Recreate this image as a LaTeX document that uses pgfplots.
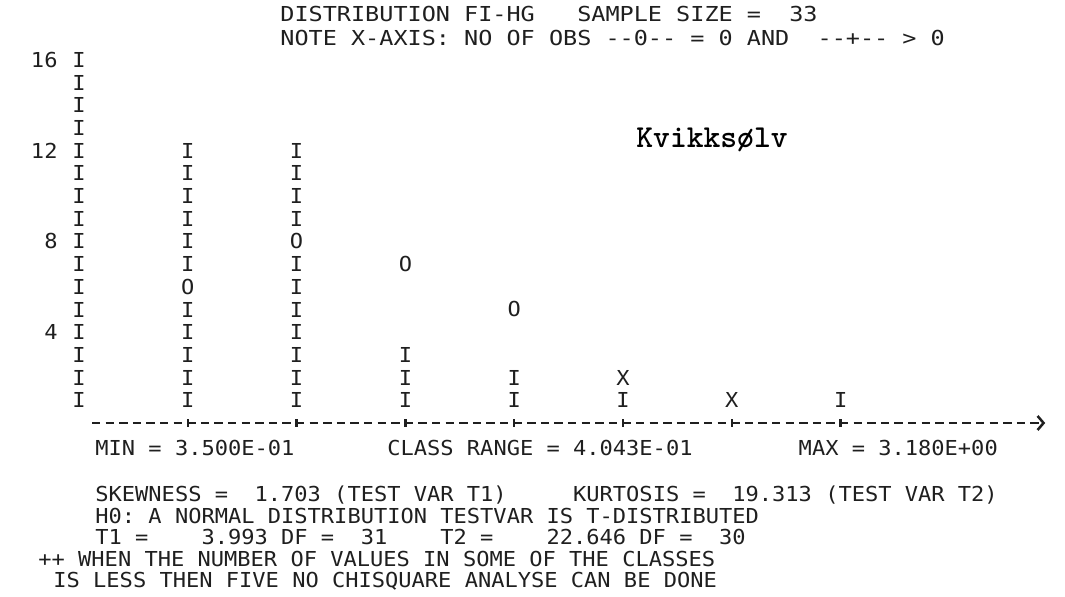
\documentclass[border=0pt]{standalone}
\usepackage{fontspec}
\setmainfont{DejaVu Sans Mono}[Ligatures=TeXOff]
\newfontfamily\prt{DejaVu Sans Mono}[FakeStretch=1.07,Ligatures=TeXOff]
\newfontfamily\prh{DejaVu Sans Mono}[FakeStretch=1.14,Ligatures=TeXOff]
\usepackage{pgfplots}
\pgfplotsset{compat=1.18}
\usetikzlibrary{arrows.meta}
\colorlet{ink}{black!88}
\newcommand{\pf}{\prt\fontsize{10.3}{12}\selectfont\frenchspacing}
\newcommand{\hf}{\prh\fontsize{10.3}{12}\selectfont\frenchspacing}
\pgfplotsset{prtmark/.style={ink, only marks, mark=text, text mark={#1}, text mark as node=true, text mark style={font=\pf, inner sep=0pt, text=ink}}}
\begin{document}
\begin{tikzpicture}
\path[use as bounding box] (0,0) rectangle (532.5pt,-298.5pt);
\begin{axis}[
  at={(39.5pt,-211.5pt)}, anchor=south west,
  scale only axis, width=484.2pt, height=188.4pt,
  xmin=0, xmax=8.9, ymin=0, ymax=16.6,
  axis lines=left, axis line style={draw=none},
  clip=false,
  xtick={1,...,7}, xticklabels={},
  ytick={4,8,12,16},
  tick align=center,
  major tick length=3.8pt,
  xtick style={draw=ink, line width=1.2pt},
  ytick style={draw=none},
  yticklabel style={font=\pf, text=ink, xshift=-5.3pt},
  /pgf/number format/assume math mode=true,
]
% x axis line of dashes
\addplot[ink, line width=1.25pt, dash pattern=on 4.2pt off 2.6pt,
  -{Straight Barb[length=3pt,width=7pt]}] coordinates {(0.12,0) (8.88,0)};
% y axis column of I
\addplot[prtmark={I}] coordinates {
(0,1)(0,2)(0,3)(0,4)(0,5)(0,6)(0,7)(0,8)(0,9)(0,10)(0,11)(0,12)(0,13)(0,14)(0,15)(0,16)};
% observed counts (columns of I)
\addplot[prtmark={I}] coordinates {
(1,1)(1,2)(1,3)(1,4)(1,5)(1,7)(1,8)(1,9)(1,10)(1,11)(1,12)
(2,1)(2,2)(2,3)(2,4)(2,5)(2,6)(2,7)(2,9)(2,10)(2,11)(2,12)
(3,1)(3,2)(3,3)
(4,1)(4,2)
(5,1)
(7,1)};
% expected (normal) counts
\addplot[prtmark={O}] coordinates {(1,6)(2,8)(3,7)(4,5)};
% observed = expected
\addplot[prtmark={X}] coordinates {(5,2)(6,1)};
\end{axis}
\begin{scope}[every node/.style={anchor=base west, inner sep=0pt, font=\pf, text=ink}]
\node[font=\hf] at (140pt,-11pt) {DISTRIBUTION~FI-HG~~~SAMPLE~SIZE~=~~33};
\node[font=\hf] at (140pt,-23pt) {NOTE~X-AXIS:~NO~OF~OBS~--0--~=~0~AND~~--+--~>~0};
\node at (47.5pt,-228pt) {MIN~=~3.500E-01~~~~~~~CLASS~RANGE~=~4.043E-01~~~~~~~~MAX~=~3.180E+00};
\node at (47.5pt,-251pt) {SKEWNESS~=~~1.703~(TEST~VAR~T1)~~~~~KURTOSIS~=~~19.313~(TEST~VAR~T2)};
\node at (47.5pt,-261.75pt) {H0:~A~NORMAL~DISTRIBUTION~TESTVAR~IS~T-DISTRIBUTED};
\node at (47.5pt,-272.5pt) {T1~=~~~~3.993~DF~=~~31~~~~T2~=~~~~22.646~DF~=~~30};
\node at (19pt,-283.25pt) {++~WHEN~THE~NUMBER~OF~VALUES~IN~SOME~OF~THE~CLASSES};
\node at (26.5pt,-294pt) {IS~LESS~THEN~FIVE~NO~CHISQUARE~ANALYSE~CAN~BE~DONE};
\node[font=\ttfamily\bfseries\fontsize{16}{18}\selectfont, text=black] at (318pt,-74pt) {Kvikksølv};
\end{scope}
\end{tikzpicture}
\end{document}
